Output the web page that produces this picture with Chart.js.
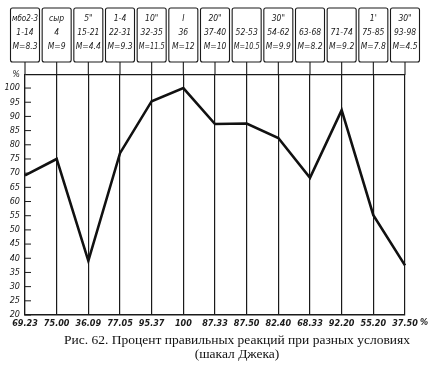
<!DOCTYPE html>
<html>
<head>
<meta charset="utf-8">
<script src="https://cdn.jsdelivr.net/npm/chart.js@4/dist/chart.umd.min.js"></script>
<style>
  body { margin: 0; background: #fff; }
  canvas { display: block; }
</style>
</head>
<body>
<canvas id="chart" width="432" height="366"></canvas>
<script>
// подписи под осью X (как напечатано)
const xLabels = ['69.23', '75.00', '36.09', '77.05', '95.37', '100', '87.33', '87.50', '82.40', '68.33', '92.20', '55.20', '37.50'];
// процент правильных реакций
const values = [69.23, 75.0, 39.1, 77.05, 95.37, 100, 87.33, 87.5, 82.4, 68.33, 92.2, 55.2, 37.5];
// надписи в рамках над графиком: три строки
const boxTop = ['мбо2-3', 'сыр', '5"', '1-4', '10"', 'I', '20"', '', '30"', '', '', "1'", '30"'];
const boxMid = ['1-14', '4', '15-21', '22-31', '32-35', '36', '37-40', '52-53', '54-62', '63-68', '71-74', '75-85', '93-98'];
const boxBot = ['M=8.3', 'M=9', 'M=4.4', 'M=9.3', 'M=11.5', 'M=12', 'M=10', 'M=10.5', 'M=9.9', 'M=8.2', 'M=9.2', 'M=7.8', 'M=4.5'];
const yTicks = [20, 25, 30, 35, 40, 45, 50, 55, 60, 65, 70, 75, 80, 85, 90, 95, 100];
const yTop = 104.6;
const caption = ['Рис. 62. Процент правильных реакций при разных условиях', '(шакал Джека)'];

const INK = '#1a1a1a';
const handFont = "'DejaVu Sans Condensed', 'Liberation Sans Narrow', sans-serif";

// рамки сверху, засечки внутрь, знак % у оси X и подпись
const extras = {
    id: 'extras',
    afterDraw(chart) {
        const ctx = chart.ctx;
        const x = chart.scales.x;
        const y = chart.scales.y;
        const area = chart.chartArea;
        ctx.save();
        ctx.strokeStyle = INK;
        ctx.fillStyle = INK;

        // засечки на оси Y
        ctx.lineWidth = 1;
        yTicks.forEach(v => {
            const py = y.getPixelForValue(v);
            ctx.beginPath();
            ctx.moveTo(area.left, py);
            ctx.lineTo(area.left + 6, py);
            ctx.stroke();
        });

        // рамки
        ctx.font = 'italic 8.5px ' + handFont;
        ctx.textAlign = 'center';
        ctx.textBaseline = 'middle';
        boxMid.forEach((m, i) => {
            const px = x.getPixelForValue(i);
            ctx.lineWidth = 1.1;
            ctx.beginPath();
            ctx.roundRect(px - 14.5, 8, 29, 54, 2);
            ctx.stroke();
            ctx.beginPath();
            ctx.moveTo(px, 62);
            ctx.lineTo(px, area.top);
            ctx.stroke();
            ctx.fillText(boxTop[i], px, 19, 26);
            ctx.fillText(m, px, 33, 26);
            ctx.fillText(boxBot[i], px, 47, 26);
        });

        // % после последней подписи
        ctx.font = 'italic bold 9px ' + handFont;
        ctx.textAlign = 'left';
        ctx.fillText('%', area.right + 15, area.bottom + 8);

        // подпись к рисунку
        ctx.fillStyle = '#111';
        ctx.font = "13.5px 'Liberation Serif', 'DejaVu Serif', serif";
        ctx.textAlign = 'center';
        ctx.fillText(caption[0], 237, 340);
        ctx.fillText(caption[1], 237, 354);
        ctx.restore();
    }
};

const chart = new Chart(document.getElementById('chart'), {
    type: 'line',
    data: {
        labels: xLabels,
        datasets: [{
            data: values,
            borderColor: '#111',
            borderWidth: 2.6,
            pointRadius: 0,
            tension: 0,
            fill: false
        }]
    },
    options: {
        responsive: false,
        animation: false,
        devicePixelRatio: 1,
        layout: { padding: { top: 75, right: 27, left: 0, bottom: 0 } },
        plugins: {
            legend: { display: false },
            tooltip: { enabled: false },
            title: { display: false }
        },
        scales: {
            x: {
                type: 'category',
                offset: false,
                afterFit(s) { s.height = 51; },
                grid: { color: INK, lineWidth: 1.2, drawTicks: false },
                border: { display: true, color: INK, width: 1.4 },
                ticks: {
                    autoSkip: false,
                    maxRotation: 0,
                    padding: 3,
                    color: INK,
                    font: { family: handFont, size: 9, style: 'italic', weight: 'bold' }
                }
            },
            y: {
                min: 20,
                max: yTop,
                afterFit(s) { s.width = 25; },
                afterBuildTicks(s) {
                    s.ticks = yTicks.map(v => ({ value: v })).concat([{ value: yTop }]);
                },
                grid: {
                    drawTicks: false,
                    color: c => (c.tick && c.tick.value === yTop) ? INK : 'transparent',
                    lineWidth: 1.2
                },
                border: { display: true, color: INK, width: 1.2 },
                ticks: {
                    autoSkip: false,
                    padding: 5,
                    color: INK,
                    font: { family: handFont, size: 9, style: 'italic' },
                    callback: v => (v === yTop ? '%' : v)
                }
            }
        }
    },
    plugins: [extras]
});
</script>
</body>
</html>
